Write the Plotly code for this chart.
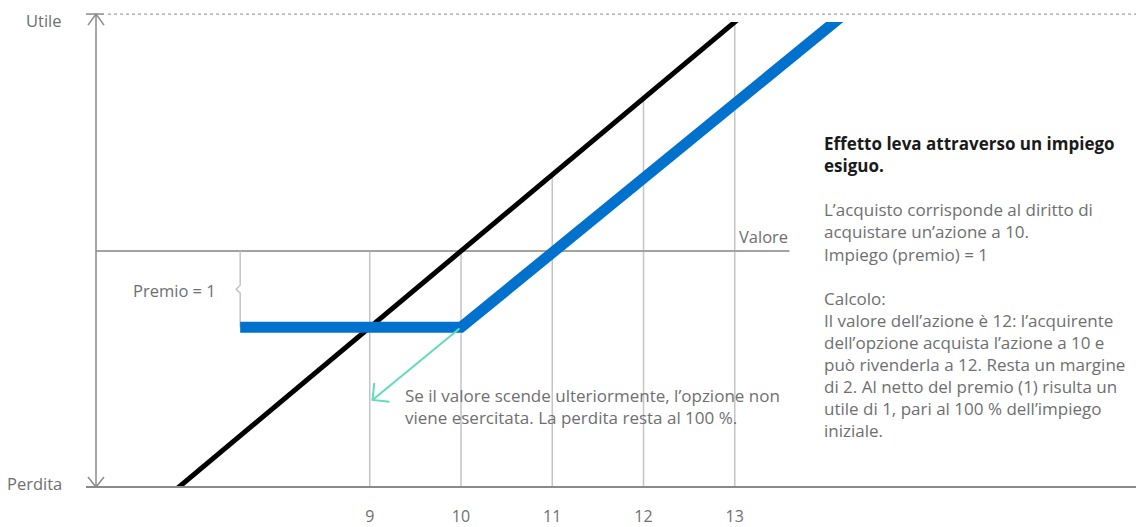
import plotly.graph_objects as go

# ---------------- data ----------------
stock_x = [6.8, 13.3]          # underlying (share) line
stock_y = [-3.2, 3.3]
call_x = [7.58, 10.0, 14.3]    # call option payoff
call_y = [-1.0, -1.0, 3.2]
tick_vals = [9, 10, 11, 12, 13]
tick_text = ["9", "10", "11", "12", "13"]
grid_top = [0, 0, 1, 2, 3]     # vertical guides rise up to the share line
premium = 1
arrow_tip_x, arrow_tip_y = 9.03, -1.95
valore_end = 13.6

title_lines = ["Effetto leva attraverso un impiego", "esiguo."]
intro_lines = [
    "L’acquisto corrisponde al diritto di",
    "acquistare un’azione a 10.",
    "Impiego (premio) = 1",
]
calc_lines = [
    "Calcolo:",
    "Il valore dell’azione è 12: l’acquirente",
    "dell’opzione acquista l’azione a 10 e",
    "può rivenderla a 12. Resta un margine",
    "di 2. Al netto del premio (1) risulta un",
    "utile di 1, pari al 100 % dell’impiego",
    "iniziale.",
]
note_lines = [
    "Se il valore scende ulteriormente, l’opzione non",
    "viene esercitata. La perdita resta al 100 %.",
]

# ---------------- layout geometry ----------------
W, H = 1136, 527
L, R, T, B = 96, 0, 22, 36
PW, PH = W - L - R, H - T - B
XPU, YPU = 91.25, 77.0
X0 = 6.0
X1 = X0 + PW / XPU
Y0 = -(491 - 253) / YPU
Y1 = (253 - 22) / YPU


def px(xp):
    return (xp - L) / PW


def py(yp):
    return (H - B - yp) / PH


FONT = "Open Sans"
FS = 16.5
GRAY_TXT = "#6f6f6f"
AXIS = "#8a8a8a"
GRID = "#c4c4c4"
BLUE = "#0072CE"
TEAL = "#5FDDBB"

fig = go.Figure()

fig.add_trace(go.Scatter(x=stock_x, y=stock_y, mode="lines",
                         line=dict(color="#000000", width=5), hoverinfo="skip"))
fig.add_trace(go.Scatter(x=call_x, y=call_y, mode="lines",
                         line=dict(color=BLUE, width=11), hoverinfo="skip"))

shapes = []
# vertical guides
for xv, top in zip(tick_vals, grid_top):
    shapes.append(dict(type="line", xref="x", yref="y", x0=xv, x1=xv, y0=Y0, y1=top,
                       line=dict(color=GRID, width=1.5), layer="below"))
# Valore line
shapes.append(dict(type="line", xref="x", yref="y", x0=X0, x1=valore_end, y0=0, y1=0,
                   line=dict(color="#a3a3a3", width=2), layer="below"))
# premium bracket
bx = call_x[0]
dx, dy = 4 / XPU, 4 / YPU
mid = -premium / 2
shapes.append(dict(type="path", xref="x", yref="y",
                   path=f"M {bx},0 L {bx},{mid + dy} L {bx - dx},{mid} L {bx},{mid - dy} L {bx},{-premium}",
                   line=dict(color=GRID, width=1.5), layer="below"))
# y axis
shapes.append(dict(type="line", xref="paper", yref="paper", x0=0, x1=0, y0=py(491), y1=py(14),
                   line=dict(color=AXIS, width=1.5)))
# top tick + dotted line
shapes.append(dict(type="line", xref="paper", yref="paper", x0=px(86), x1=px(104), y0=py(14), y1=py(14),
                   line=dict(color=AXIS, width=1.5)))
shapes.append(dict(type="line", xref="paper", yref="paper", x0=px(108), x1=1, y0=py(14), y1=py(14),
                   line=dict(color="#a0a0a0", width=1.2, dash="dot")))
# bottom axis
shapes.append(dict(type="line", xref="paper", yref="paper", x0=px(86), x1=1, y0=0, y1=0,
                   line=dict(color=AXIS, width=2)))
# axis chevrons (pixel-sized)
shapes.append(dict(type="path", xref="paper", yref="paper", xsizemode="pixel", ysizemode="pixel",
                   xanchor=0, yanchor=py(14), path="M -8,-11 L 0,0 L 8,-11",
                   line=dict(color=AXIS, width=1.5)))
shapes.append(dict(type="path", xref="paper", yref="paper", xsizemode="pixel", ysizemode="pixel",
                   xanchor=0, yanchor=0, path="M -8,10 L 0,0 L 8,10",
                   line=dict(color=AXIS, width=1.5)))
# teal arrow head
shapes.append(dict(type="path", xref="x", yref="y", xsizemode="pixel", ysizemode="pixel",
                   xanchor=arrow_tip_x, yanchor=arrow_tip_y, path="M 1.8,17 L 0,0 L 17,-1.8",
                   line=dict(color=TEAL, width=2)))

annotations = []
# teal arrow shaft
annotations.append(dict(x=arrow_tip_x, y=arrow_tip_y, xref="x", yref="y",
                        ax=call_x[1], ay=call_y[1], axref="x", ayref="y",
                        showarrow=True, arrowhead=0, arrowwidth=2, arrowcolor=TEAL, text=""))


def label(text, xp, yp, anchor="left", size=FS, color=GRAY_TXT):
    annotations.append(dict(text=text, align="left",
                            x=px(xp), y=py(yp), xref="paper", yref="paper",
                            xanchor=anchor, yanchor="middle", showarrow=False,
                            font=dict(family=FONT, size=size, color=color)))


label("Utile", 64, 20, "right")
label("Perdita", 64, 487, "right")
label("Premio = 1", 218, 293, "right")
label("Valore", 790, 238, "right")
label("<br>".join(note_lines), 403, 410, size=17)

title_html = "<br>".join(f"<span style='color:#1a1a1a'><b>{t}</b></span>" for t in title_lines)
side_text = title_html + "<br> <br>" + "<br>".join(intro_lines) + "<br> <br>" + "<br>".join(calc_lines)
label(side_text, 822, 289.5, size=17)

fig.update_layout(
    width=W, height=H,
    margin=dict(l=L, r=R, t=T, b=B, pad=0),
    paper_bgcolor="white", plot_bgcolor="white",
    showlegend=False, hovermode=False,
    shapes=shapes, annotations=annotations,
    xaxis=dict(range=[X0, X1], showgrid=False, zeroline=False, showline=False,
               tickvals=tick_vals, ticktext=tick_text, ticks="",
               ticklabelstandoff=18,
               tickfont=dict(family=FONT, size=16, color=GRAY_TXT), fixedrange=True),
    yaxis=dict(range=[Y0, Y1], showgrid=False, zeroline=False, showline=False,
               showticklabels=False, ticks="", fixedrange=True),
)

fig.write_html("out.html", config={"displayModeBar": False},
               post_script="document.body.style.margin='0';document.body.style.padding='0';")
